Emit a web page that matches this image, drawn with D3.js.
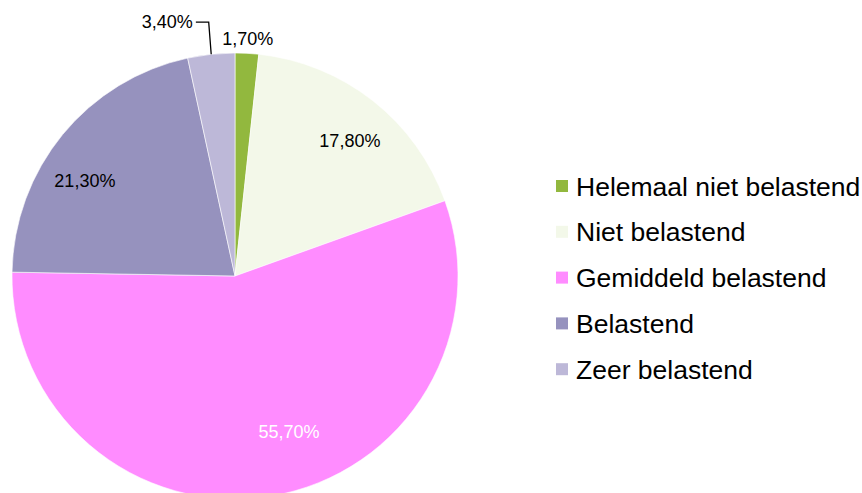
<!DOCTYPE html>
<html>
<head>
<meta charset="utf-8">
<script src="https://cdn.jsdelivr.net/npm/d3@7/dist/d3.min.js"></script>
<style>
  body { margin: 0; background: #fff; }
  svg text { font-family: "Liberation Sans", Arial, sans-serif; }
</style>
</head>
<body>
<script>
// chart data
const categories = ["Helemaal niet belastend", "Niet belastend", "Gemiddeld belastend", "Belastend", "Zeer belastend"];
const values = [1.7, 17.8, 55.7, 21.3, 3.4];
const valueLabels = ["1,70%", "17,80%", "55,70%", "21,30%", "3,40%"];
const colors = ["#92b83e", "#f3f8e9", "#ff8cff", "#9692be", "#bdb8d8"];

// label placement tweaks: angle shift (deg), radius factor
const labelNudge = [[0, 1.065], [2.2, 0.795], [-9.7, 0.74], [-7, 0.797], [-3.3, 1.154]];

const w = 862, h = 493;
const cx = 235, cy = 276, r = 223;

const svg = d3.select("body")
  .append("svg")
  .attr("width", w)
  .attr("height", h);

const pie = d3.pie().sort(null).value(d => d)
const arcs = pie(values)
const arc = d3.arc().innerRadius(0).outerRadius(r)

const g = svg.append("g")
  .attr("transform", `translate(${cx}, ${cy})`)

g.selectAll("path")
  .data(arcs)
  .enter()
  .append("path")
  .attr("d", arc)
  .attr("fill", (d, i) => colors[i])
  .attr("stroke", "#fff")
  .attr("stroke-width", 0.6)

const labelPos = (d, i) => {
  let a = (d.startAngle + d.endAngle) / 2 + labelNudge[i][0] * Math.PI / 180
  let rr = r * labelNudge[i][1]
  return [rr * Math.sin(a), -rr * Math.cos(a)]
}

g.selectAll("text.lbl")
  .data(arcs)
  .enter()
  .append("text")
  .attr("class", "lbl")
  .attr("x", (d, i) => labelPos(d, i)[0])
  .attr("y", (d, i) => labelPos(d, i)[1])
  .attr("dy", "0.35em")
  .attr("text-anchor", (d, i) => i == 4 ? "end" : "middle")
  .attr("font-size", "18px")
  .attr("fill", (d, i) => i == 2 ? "#fff" : "#000")
  .text((d, i) => valueLabels[i])

// leader line for the small slice at the top left
const last = arcs[4]
const ma = (last.startAngle + last.endAngle) / 2
const p0 = [r * Math.sin(ma), -r * Math.cos(ma)]
const lp = labelPos(last, 4)
g.append("path")
  .attr("d", `M${lp[0] + 3},${lp[1]} H${p0[0] - 2.5} L${p0[0]},${p0[1]}`)
  .attr("fill", "none")
  .attr("stroke", "#000")
  .attr("stroke-width", 1.3)

// legend
const legend = svg.append("g")
  .attr("id", "legend")
  .attr("transform", "translate(556, 186)")

const rows = legend.selectAll("g")
  .data(categories)
  .enter()
  .append("g")
  .attr("transform", (d, i) => `translate(0, ${i * 45.8})`)

rows.append("rect")
  .attr("x", 0)
  .attr("y", -6)
  .attr("width", 12)
  .attr("height", 12)
  .attr("fill", (d, i) => colors[i])

rows.append("text")
  .attr("x", 20)
  .attr("dy", "0.36em")
  .attr("font-size", "26.5px")
  .text(d => d)
</script>
</body>
</html>
